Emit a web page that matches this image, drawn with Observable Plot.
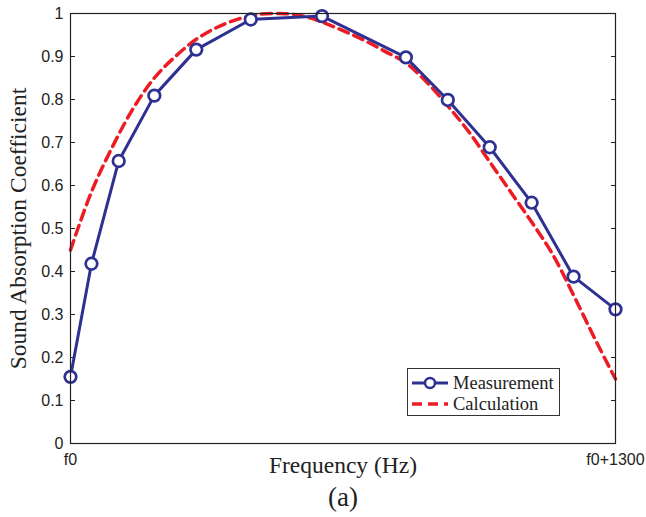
<!DOCTYPE html>
<html>
<head>
<meta charset="utf-8">
<script src="https://cdn.jsdelivr.net/npm/d3@7"></script>
<script src="https://cdn.jsdelivr.net/npm/@observablehq/plot@0.6"></script>
<style>
  html, body { margin: 0; padding: 0; background: white; }
  #wrap { position: relative; width: 646px; height: 517px; }
  #legend { position: absolute; left: 407px; top: 368px; width: 153px; height: 48px;
    border: 1px solid #333; background: white; box-sizing: border-box;
    font-family: "Liberation Serif", "Times New Roman", serif; font-size: 18.5px; color: #222; }
  #legend .row { position: absolute; left: 0; height: 20px; display: flex; align-items: center; }
  #legend svg { display: block; }
</style>
</head>
<body>
<div id="wrap"></div>
<script>
// ---- data ----
const measFreq = [0, 50, 115, 200, 300, 430, 600, 800, 900, 1000, 1100, 1200, 1300];
const measAlpha = [0.155, 0.418, 0.657, 0.809, 0.916, 0.986, 0.994, 0.898, 0.799, 0.689, 0.560, 0.388, 0.312];
const calcFreq = [0, 50, 100, 150, 200, 250, 300, 350, 400, 450, 500, 550, 600, 650, 700, 750, 800, 850, 900, 950, 1000, 1050, 1100, 1150, 1200, 1250, 1300];
const calcAlpha = [0.45, 0.585, 0.69, 0.78, 0.85, 0.90, 0.94, 0.968, 0.987, 0.998, 1.0, 0.995, 0.98, 0.96, 0.938, 0.912, 0.885, 0.84, 0.785, 0.725, 0.655, 0.585, 0.515, 0.44, 0.345, 0.245, 0.15];
const yTicks = [0, 0.1, 0.2, 0.3, 0.4, 0.5, 0.6, 0.7, 0.8, 0.9, 1];
const xTickValues = [0, 1300];
const xTickLabels = ["f0", "f0+1300"];
const seriesNames = ["Measurement", "Calculation"];
const seriesColors = ["#2E3192", "#ED1C24"];

const meas = measFreq.map((f, i) => ({f, a: measAlpha[i]}));
const calc = calcFreq.map((f, i) => ({f, a: calcAlpha[i]}));
const serif = "'Liberation Serif', 'Times New Roman', serif";

const chart = Plot.plot({
  width: 646, height: 517,
  marginLeft: 70, marginRight: 31, marginTop: 13, marginBottom: 74,
  x: {domain: [0, 1300]},
  y: {domain: [0, 1]},
  style: {background: "white", fontFamily: "'Liberation Sans', Arial, sans-serif", color: "#222"},
  marks: [
    Plot.axisY(yTicks, {anchor: "left", tickSize: -5, tickPadding: 12, fontSize: 16, label: null, tickFormat: d => String(d)}),
    Plot.axisY(yTicks, {anchor: "right", tickSize: -5, tickFormat: () => "", label: null}),
    Plot.axisX(xTickValues, {anchor: "bottom", tickSize: 0, tickPadding: 10, fontSize: 16, label: null,
      tickFormat: d => xTickLabels[xTickValues.indexOf(d)]}),
    Plot.line(calc, {x: "f", y: "a", stroke: seriesColors[1], strokeWidth: 3.5, strokeDasharray: "10,6", curve: "catmull-rom"}),
    Plot.line(meas, {x: "f", y: "a", stroke: seriesColors[0], strokeWidth: 3}),
    Plot.dot(meas, {x: "f", y: "a", r: 5.8, stroke: seriesColors[0], fill: "white", strokeWidth: 2.7}),
    Plot.frame({stroke: "#222", strokeWidth: 1.2}),
    Plot.text(["Frequency (Hz)"], {frameAnchor: "bottom", dy: 29, fontFamily: serif, fontSize: 23.5, fill: "#222"}),
    Plot.text(["(a)"], {frameAnchor: "bottom", dy: 62, fontFamily: serif, fontSize: 27, fill: "#222"}),
    Plot.text(["Sound Absorption Coefficient"], {frameAnchor: "left", textAnchor: "middle", rotate: -90, dx: -52, fontFamily: serif, fontSize: 23.5, fill: "#222"})
  ]
});
const wrap = document.getElementById("wrap");
wrap.appendChild(chart);

// legend
const legend = document.createElement("div");
legend.id = "legend";
seriesNames.forEach((name, i) => {
  const row = document.createElement("div");
  row.className = "row";
  row.style.top = (i === 0 ? 4 : 25) + "px";
  const sw = i === 0
    ? `<svg width="44" height="20"><line x1="4" y1="10" x2="40" y2="10" stroke="${seriesColors[0]}" stroke-width="3"/><circle cx="22" cy="10" r="5" fill="white" stroke="${seriesColors[0]}" stroke-width="2.5"/></svg>`
    : `<svg width="44" height="20"><line x1="4" y1="10" x2="40" y2="10" stroke="${seriesColors[1]}" stroke-width="3.5" stroke-dasharray="10,6"/></svg>`;
  row.innerHTML = sw + `<span style="margin-left:1px">${name}</span>`;
  legend.appendChild(row);
});
wrap.appendChild(legend);
</script>
</body>
</html>
